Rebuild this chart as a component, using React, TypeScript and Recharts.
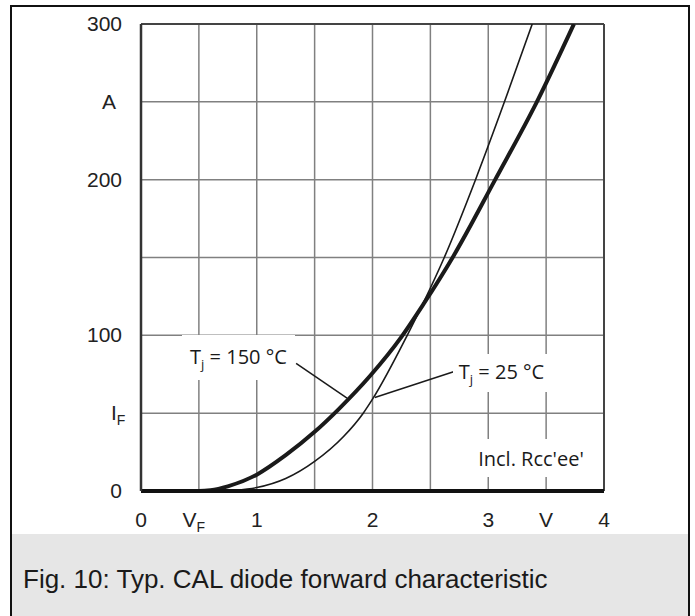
import React from "react";
import { LineChart, Line, XAxis, YAxis, CartesianGrid, ReferenceLine } from "recharts";

// forward characteristic
const vf150 = [0, 0.5, 0.6, 0.75, 1.0, 1.25, 1.5, 1.7, 1.98, 2.25, 2.44, 2.7, 3.06, 3.42, 3.74];
const if150 = [0, 0, 0.5, 3, 10.5, 23, 38, 52, 74, 99, 120, 151, 200, 250, 300];
const vf25 = [0, 0.65, 0.8, 1.0, 1.25, 1.5, 1.75, 1.92, 2.0, 2.3, 2.44, 2.62, 2.89, 3.14, 3.38];
const if25 = [0, 0, 0.5, 2.2, 8, 19, 35, 50, 59, 100, 121, 150, 200, 250, 300];

const xTicks = [0, 0.5, 1, 1.5, 2, 2.5, 3, 3.5, 4];
const xLabels = ["0", "V|F", "1", "", "2", "", "3", "V", "4"];
const yTicks = [0, 50, 100, 150, 200, 250, 300];
const yLabels = ["0", "I|F", "100", "", "200", "A", "300"];

const data150 = vf150.map((v, i) => ({ v, i: if150[i] }));
const data25 = vf25.map((v, i) => ({ v, i: if25[i] }));

const TICK_FONT = "'Liberation Sans', Arial, sans-serif";
const NOTE_FONT = "'Open Sans', 'Noto Sans', sans-serif";

// "X|s" -> X with subscript s
function Label({ text }: { text: string }) {
  const [main, sub] = text.split("|");
  return (
    <>
      {main}
      {sub ? (
        <tspan dy={5} fontSize={14}>
          {sub}
        </tspan>
      ) : null}
    </>
  );
}

function XTick(props: any) {
  const { x, y, payload } = props;
  const idx = xTicks.indexOf(payload.value);
  const txt = idx >= 0 ? xLabels[idx] : "";
  if (!txt) return null;
  const shift = txt.includes("|") ? -5 : 0;
  return (
    <text x={x + shift} y={y + 28} textAnchor="middle" fontFamily={TICK_FONT} fontSize={21} fill="#222">
      <Label text={txt} />
    </text>
  );
}

function YTick(props: any) {
  const { y, payload } = props;
  const idx = yTicks.indexOf(payload.value);
  const txt = idx >= 0 ? yLabels[idx] : "";
  if (!txt) return null;
  const sub = txt.includes("|");
  const right = txt === "A" ? 116 : 122;
  return (
    <text
      x={sub ? 111 : right}
      y={y + 7}
      textAnchor={sub ? "start" : "end"}
      fontFamily={TICK_FONT}
      fontSize={21}
      fill="#222"
    >
      <Label text={txt} />
    </text>
  );
}

function Note({ left, top, width, height, children }: any) {
  return (
    <div
      style={{
        position: "absolute",
        left,
        top,
        width,
        height,
        background: "#fff",
        display: "flex",
        alignItems: "center",
        justifyContent: "center",
        fontFamily: NOTE_FONT,
        fontSize: 20,
        color: "#1a1a1a",
        whiteSpace: "nowrap",
      }}
    >
      {children}
    </div>
  );
}

export default function App() {
  return (
    <div style={{ position: "absolute", left: 0, top: 0, width: 695, height: 616, background: "#fff" }}>
      {/* outer frame */}
      <div style={{ position: "absolute", left: 10, top: 5, width: 680, height: 611, borderLeft: "2px solid #111", borderTop: "2px solid #111", borderRight: "2px solid #111", boxSizing: "border-box" }} />
      <div style={{ position: "absolute", left: 12, top: 534, width: 676, height: 82, background: "#e6e6e6" }} />
      <div style={{ position: "absolute", left: 23, top: 564, fontFamily: TICK_FONT, fontSize: 26, color: "#1a1a1a", whiteSpace: "nowrap" }}>
        Fig. 10: Typ. CAL diode forward characteristic
      </div>

      <div style={{ position: "absolute", left: 0, top: 0 }}>
        <LineChart width={695} height={534} margin={{ top: 24, right: 91, bottom: 13, left: 81 }}>
          <CartesianGrid stroke="#808080" strokeWidth={1.5} horizontalValues={yTicks} verticalValues={xTicks} />
          <XAxis
            type="number"
            dataKey="v"
            domain={[0, 4]}
            ticks={xTicks}
            height={30}
            tickLine={false}
            axisLine={{ stroke: "#111", strokeWidth: 4 }}
            tick={<XTick />}
            allowDataOverflow
          />
          <YAxis
            type="number"
            dataKey="i"
            domain={[0, 300]}
            ticks={yTicks}
            width={60}
            tickLine={false}
            axisLine={{ stroke: "#333", strokeWidth: 2.5 }}
            tick={<YTick />}
            allowDataOverflow
          />
          <ReferenceLine y={300} stroke="#444" strokeWidth={2} />
          <ReferenceLine x={4} stroke="#444" strokeWidth={2} />
          {/* leader lines */}
          <ReferenceLine segment={[{ x: 1.34, y: 82 }, { x: 1.78, y: 59.7 }]} stroke="#1a1a1a" strokeWidth={1.5} />
          <ReferenceLine segment={[{ x: 2.7, y: 76.6 }, { x: 2.02, y: 60.1 }]} stroke="#1a1a1a" strokeWidth={1.5} />
          <Line data={data25} dataKey="i" type="monotone" stroke="#1a1a1a" strokeWidth={1.6} dot={false} isAnimationActive={false} />
          <Line data={data150} dataKey="i" type="monotone" stroke="#1a1a1a" strokeWidth={4} dot={false} isAnimationActive={false} />
        </LineChart>
      </div>

      <Note left={182} top={335} width={113} height={45}>
        <span>
          T<sub style={{ fontSize: 13 }}>j</sub> = 150 °C
        </span>
      </Note>
      <Note left={453} top={354} width={97} height={38}>
        <span>
          T<sub style={{ fontSize: 13 }}>j</sub> = 25 °C
        </span>
      </Note>
      <Note left={468} top={439} width={126} height={38}>
        Incl. Rcc'ee'
      </Note>
    </div>
  );
}
